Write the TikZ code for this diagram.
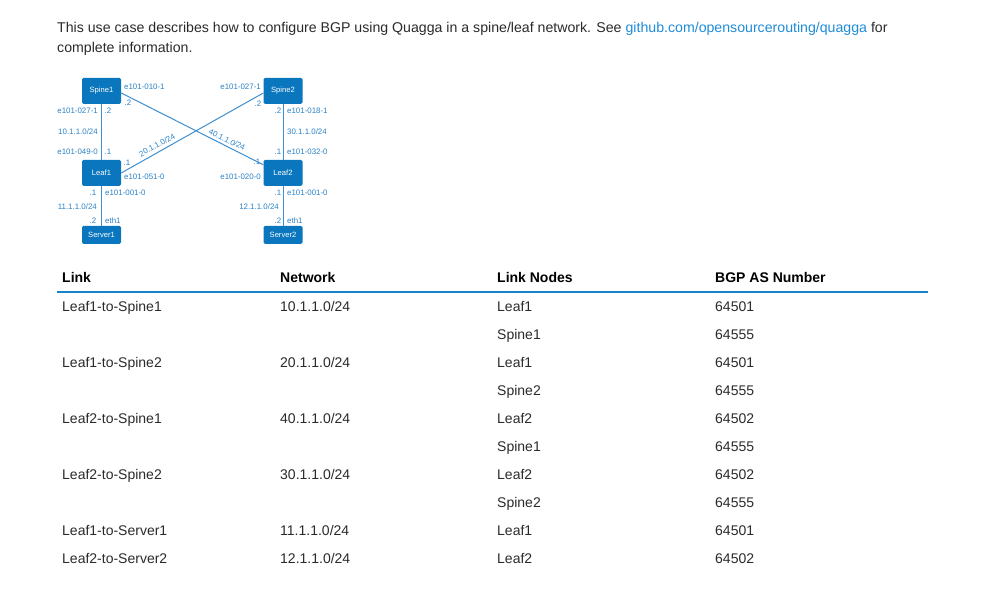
\documentclass[tikz,border=0pt]{standalone}
\usepackage{fontspec}
\setmainfont{Liberation Sans}
\definecolor{dblue}{HTML}{0A76BE}
\definecolor{lblue}{HTML}{3D8FD1}
\definecolor{tblue}{HTML}{2B82C6}
\definecolor{txt}{HTML}{2A2A2A}
\definecolor{linkc}{HTML}{1E8CD8}
\definecolor{rulec}{HTML}{1A82C8}
\begin{document}
\begin{tikzpicture}[x=1pt,y=-1pt,
 box/.style={fill=dblue, rounded corners=1.5pt, text=white, font=\fontsize{7.6}{8}\selectfont, inner sep=0, minimum width=39pt},
 lab/.style={text=tblue, font=\fontsize{7.9}{8}\selectfont, inner sep=0},
 wire/.style={draw=lblue, line width=1pt},
 body/.style={text=txt, font=\fontsize{14}{17}\selectfont, inner sep=0, anchor=base west},
 intro/.style={text=txt, font=\fontsize{14.15}{17}\selectfont, inner sep=0, anchor=base west},
 hd/.style={text=black, font=\bfseries\fontsize{14}{17}\selectfont, inner sep=0, anchor=base west},
]
\useasboundingbox (0,0) rectangle (997,593);
% intro text
\node[intro] (intro1) at (57,33) {This use case describes how to configure BGP using Quagga in a spine/leaf network. See \textcolor{linkc}{github.com/opensourcerouting/quagga} for};
\node[intro] (intro2) at (57,53) {complete information.};
% boxes
\node[box, minimum height=26pt] (spine1) at (101.5,91) {Spine1};
\node[box, minimum height=26pt] (spine2) at (283,91) {Spine2};
\node[box, minimum height=26pt] (leaf1) at (101.5,173) {Leaf1};
\node[box, minimum height=26pt] (leaf2) at (283,173) {Leaf2};
\node[box, minimum height=18pt] (server1) at (101.5,235) {Server1};
\node[box, minimum height=18pt] (server2) at (283,235) {Server2};
% wires
\draw[wire] (spine1) -- (leaf1);
\draw[wire] (spine2) -- (leaf2);
\draw[wire] (leaf1) -- (server1);
\draw[wire] (leaf2) -- (server2);
\draw[wire] ([yshift=-2pt]spine1.east) -- ([yshift=-5pt]leaf2.north west);
\draw[wire] (leaf1.east) -- ([yshift=-2pt]spine2.west);
% labels spine1
\node[lab, anchor=west] (l1) at (124,87) {e101-010-1};
\node[lab] (l2) at (128,103) {.2};
\node[lab, anchor=east] (l3) at (98,111) {e101-027-1};
\node[lab] (l4) at (108,111) {.2};
\node[lab] (l5) at (78,132) {10.1.1.0/24};
\node[lab, anchor=east] (l6) at (98,152) {e101-049-0};
\node[lab] (l7) at (108,152) {.1};
\node[lab, rotate=29] (l8) at (157,145) {20.1.1.0/24};
\node[lab, rotate=-27] (l9) at (227,139.5) {40.1.1.0/24};
% leaf1
\node[lab] (l10) at (127,163) {.1};
\node[lab, anchor=west] (l11) at (124,177) {e101-051-0};
\node[lab] (l12) at (93,193) {.1};
\node[lab, anchor=west] (l13) at (105,193) {e101-001-0};
\node[lab, anchor=east] (l14) at (97,207) {11.1.1.0/24};
\node[lab] (l15) at (93,221) {.2};
\node[lab, anchor=west] (l16) at (105,221) {eth1};
% spine2
\node[lab, anchor=east] (l17) at (261,87) {e101-027-1};
\node[lab] (l18) at (258,104) {.2};
\node[lab] (l19) at (278,111) {.2};
\node[lab, anchor=west] (l20) at (287,111) {e101-018-1};
\node[lab, anchor=west] (l21) at (287,132) {30.1.1.0/24};
\node[lab] (l22) at (278,152) {.1};
\node[lab, anchor=west] (l23) at (287,152) {e101-032-0};
% leaf2
\node[lab] (l24) at (257,162) {.1};
\node[lab, anchor=east] (l25) at (261,177) {e101-020-0};
\node[lab] (l26) at (278,193) {.1};
\node[lab, anchor=west] (l27) at (287,193) {e101-001-0};
\node[lab, anchor=east] (l28) at (279,207) {12.1.1.0/24};
\node[lab] (l29) at (278,221) {.2};
\node[lab, anchor=west] (l30) at (287,221) {eth1};
% table
\node[hd] (h1) at (62,283) {Link};
\node[hd] (h2) at (280,283) {Network};
\node[hd] (h3) at (497,283) {Link Nodes};
\node[hd] (h4) at (715,283) {BGP AS Number};
\coordinate (ra) at (57,292.3);
\coordinate (rb) at (928,292.3);
\draw[rulec, line width=1.6pt] (ra) -- (rb);
\foreach \y/\a/\b/\c/\d in {311.5/Leaf1-to-Spine1/10.1.1.0\slash 24/Leaf1/64501,
  339.5///Spine1/64555,
  367.5/Leaf1-to-Spine2/20.1.1.0\slash 24/Leaf1/64501,
  395.5///Spine2/64555,
  423.5/Leaf2-to-Spine1/40.1.1.0\slash 24/Leaf2/64502,
  451.5///Spine1/64555,
  479.5/Leaf2-to-Spine2/30.1.1.0\slash 24/Leaf2/64502,
  507.5///Spine2/64555,
  535.5/Leaf1-to-Server1/11.1.1.0\slash 24/Leaf1/64501,
  563.5/Leaf2-to-Server2/12.1.1.0\slash 24/Leaf2/64502}{
  \node[body] at (62,\y) {\a};
  \node[body] at (280,\y) {\b};
  \node[body] at (497,\y) {\c};
  \node[body] at (715,\y) {\d};
}
\end{tikzpicture}
\end{document}
